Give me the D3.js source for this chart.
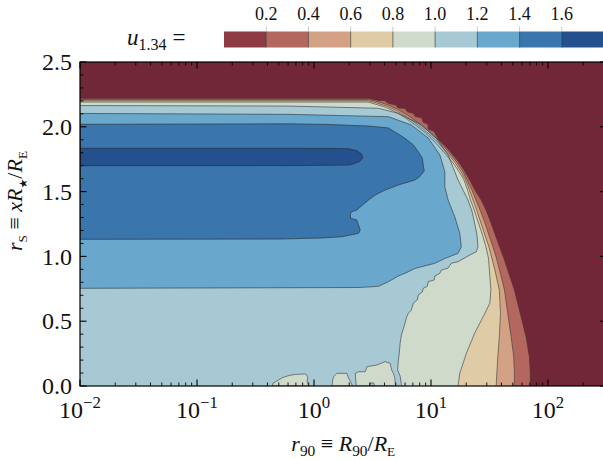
<!DOCTYPE html>
<html><head><meta charset="utf-8">
<script src="https://cdn.jsdelivr.net/npm/d3@7"></script>
<style>
body{margin:0;background:#fff}
svg text{font-family:"Liberation Serif","DejaVu Serif",serif;fill:#111}
</style></head><body>
<svg id="c" width="603" height="460"></svg>
<script>
// ---------------- data ----------------
const levels = [0.2, 0.4, 0.6, 0.8, 1.0, 1.2, 1.4, 1.6];
const bandColors = ["#8f3b46","#b4675f","#d3a184","#dfcba6","#cfdacb","#a6c9d4","#69a7cc","#3a75ab","#24508d"];
const outsideColor = "#712737";
const xTickExps = [-2, -1, 0, 1, 2];
const yTicks = [0, 0.5, 1.0, 1.5, 2.0, 2.5];
const yTickLabels = ["0.0","0.5","1.0","1.5","2.0","2.5"];

// contour lines: points are [log10(r90), rS]
const c02 = [[-2,2.220],[0.466,2.220],[0.551,2.203],[0.602,2.203],[0.636,2.180],[0.696,2.170],[0.721,2.145],[0.778,2.143],[0.798,2.116],[0.849,2.104],[0.866,2.079],[0.919,2.069],[0.934,2.035],[0.976,2.019],[0.976,1.983],[1.027,1.964],[1.061,1.906],[1.146,1.829],[1.231,1.736],[1.282,1.667],[1.331,1.590],[1.376,1.512],[1.429,1.435],[1.474,1.350],[1.514,1.255],[1.550,1.165],[1.586,1.075],[1.622,0.988],[1.656,0.895],[1.713,0.741],[1.770,0.535],[1.812,0.380],[1.841,0.226],[1.849,0.098],[1.849,0]];
const c04 = [[-2,2.211],[0.466,2.211],[0.543,2.194],[0.628,2.170],[0.713,2.136],[0.798,2.090],[0.883,2.035],[0.968,1.974],[1.051,1.906],[1.136,1.821],[1.220,1.728],[1.271,1.659],[1.308,1.590],[1.350,1.512],[1.384,1.435],[1.423,1.350],[1.461,1.258],[1.495,1.165],[1.529,1.075],[1.559,0.988],[1.586,0.895],[1.628,0.741],[1.656,0.561],[1.685,0.380],[1.707,0.226],[1.713,0.100],[1.713,0]];
const c06 = [[-2,2.201],[0.466,2.201],[0.534,2.184],[0.619,2.160],[0.704,2.126],[0.789,2.079],[0.874,2.025],[0.959,1.964],[1.040,1.898],[1.125,1.813],[1.208,1.721],[1.259,1.651],[1.295,1.590],[1.329,1.512],[1.359,1.435],[1.393,1.350],[1.427,1.258],[1.461,1.165],[1.495,1.075],[1.520,0.988],[1.546,0.895],[1.584,0.741],[1.594,0.561],[1.584,0.380],[1.571,0.226],[1.563,0.100],[1.557,0]];
const c08 = [[-2,2.191],[0.466,2.191],[0.526,2.174],[0.611,2.151],[0.696,2.116],[0.781,2.069],[0.866,2.015],[0.951,1.954],[1.027,1.888],[1.112,1.803],[1.197,1.711],[1.248,1.642],[1.282,1.590],[1.312,1.512],[1.338,1.435],[1.372,1.350],[1.406,1.258],[1.440,1.165],[1.469,1.075],[1.491,0.988],[1.499,0.895],[1.512,0.741],[1.503,0.640],[1.461,0.561],[1.373,0.407],[1.302,0.252],[1.246,0.098],[1.231,0]];
const c10 = [[-2,2.164],[-0.214,2.160],[0.551,2.143],[0.721,2.104],[0.919,2.014],[1.047,1.911],[1.146,1.782],[1.203,1.654],[1.231,1.590],[1.274,1.512],[1.316,1.435],[1.350,1.350],[1.373,1.255],[1.393,1.165],[1.401,1.075],[1.387,1.036],[1.316,1.003],[1.231,0.959],[1.174,0.947],[1.146,0.910],[1.089,0.895],[1.076,0.870],[1.033,0.849],[1.027,0.818],[0.976,0.805],[0.968,0.769],[0.934,0.754],[0.925,0.725],[0.891,0.702],[0.883,0.664],[0.849,0.640],[0.832,0.586],[0.806,0.561],[0.789,0.525],[0.778,0.484],[0.747,0.394],[0.736,0.329],[0.727,0.239],[0.721,0.201],[0.715,0.123],[0.736,0.077],[0.749,0]];
const c12 = [[-2,2.103],[-0.214,2.096],[0.636,2.078],[0.832,2.014],[0.976,1.914],[1.076,1.782],[1.118,1.654],[1.118,1.538],[1.146,1.435],[1.203,1.306],[1.246,1.178],[1.259,1.075],[1.231,1.024],[1.118,0.984],[1.033,0.947],[0.863,0.907],[0.778,0.870],[0.721,0.849],[0.636,0.805],[0.551,0.769],[0.381,0.760],[-2,0.754]];
const c14 = [[-2,2.019],[-0.214,2.023],[0.126,2.018],[0.466,2.006],[0.636,1.991],[0.778,1.911],[0.849,1.860],[0.891,1.808],[0.925,1.759],[0.934,1.705],[0.942,1.659],[0.900,1.613],[0.863,1.590],[0.721,1.551],[0.608,1.512],[0.523,1.474],[0.466,1.435],[0.415,1.397],[0.366,1.358],[0.324,1.345],[0.310,1.327],[0.313,1.294],[0.366,1.281],[0.395,1.204],[0.381,1.178],[0.239,1.152],[0.069,1.142],[-0.299,1.134],[-2,1.132]];
const c16 = [[-2,1.834],[-0.129,1.834],[0.211,1.833],[0.296,1.831],[0.364,1.817],[0.402,1.794],[0.419,1.762],[0.389,1.732],[0.338,1.714],[0.296,1.705],[-0.129,1.701],[-2,1.700]];
// islands below 1.0 near the bottom edge
const blobA = [[-0.356,0],[-0.350,0.023],[-0.327,0.033],[-0.271,0.064],[-0.214,0.081],[-0.157,0.090],[-0.072,0.093],[-0.053,0.072],[-0.059,0.033],[-0.044,0]];
const blobB = [[0.154,0],[0.160,0.046],[0.168,0.072],[0.196,0.098],[0.281,0.098],[0.296,0.059],[0.313,0.031],[0.330,0]];
const blobC = [[0.361,0],[0.355,0.062],[0.353,0.098],[0.381,0.110],[0.438,0.110],[0.452,0.149],[0.537,0.162],[0.608,0.188],[0.651,0.175],[0.664,0.123],[0.679,0.098],[0.691,0.062],[0.696,0]];
const pocketC = [[0.474,0],[0.480,0.023],[0.510,0.023],[0.517,0]];

// ---------------- drawing ----------------
const svg = d3.select("#c");
const L = 80, R = 606.5, T = 62, B = 386;
const x = d3.scaleLog().domain([1e-2, Math.pow(10, 2.5)]).range([L, R]);
const y = d3.scaleLinear().domain([0, 2.5]).range([B, T]);
const line = d3.line().x(p => x(Math.pow(10, p[0]))).y(p => y(p[1]));
const corner = [[-2, 0]];

svg.append("clipPath").attr("id","clip").append("rect")
  .attr("x", L).attr("y", T).attr("width", R - L).attr("height", B - T);
const plot = svg.append("g").attr("clip-path","url(#clip)");

plot.append("rect").attr("x", L).attr("y", T).attr("width", R - L).attr("height", B - T)
  .attr("fill", outsideColor);

const fills = [
  [c02.concat(corner), bandColors[1]],
  [c04.concat(corner), bandColors[2]],
  [c06.concat(corner), bandColors[3]],
  [c08.concat(corner), bandColors[4]],
  [c10.concat(corner), bandColors[5]],
  [blobA, bandColors[4]],
  [blobB, bandColors[4]],
  [blobC, bandColors[4]],
  [pocketC, bandColors[5]],
  [c12, bandColors[6]],
  [c14, bandColors[7]],
  [c16, bandColors[8]]
];
fills.forEach(([pts, col]) => {
  plot.append("path").attr("d", line(pts) + "Z").attr("fill", col).attr("stroke", col).attr("stroke-width", 0.3);
});
const strokeCol = "rgba(40,40,40,0.6)";
[c02, c04, c06, c08, c10].forEach(pts => {
  plot.append("path").attr("d", line(pts)).attr("fill","none").attr("stroke", strokeCol).attr("stroke-width", 0.9);
});
[blobA, blobB, blobC, pocketC, c12, c14, c16].forEach(pts => {
  plot.append("path").attr("d", line(pts) + "Z").attr("fill","none").attr("stroke", strokeCol).attr("stroke-width", 0.9);
});

// frame
svg.append("rect").attr("x", L).attr("y", T).attr("width", R - L).attr("height", B - T)
  .attr("fill","none").attr("stroke","#000").attr("stroke-width", 1.2);

// ticks (inward, all sides)
const tickG = svg.append("g").attr("stroke","#000");
const xMinor = [];
for (let e = -2; e <= 2; e++) for (let m = 2; m <= 9; m++) { const v = m * Math.pow(10, e); if (v <= Math.pow(10, 2.5)) xMinor.push(v); }
xTickExps.forEach(e => {
  const px = x(Math.pow(10, e));
  tickG.append("line").attr("x1", px).attr("x2", px).attr("y1", B).attr("y2", B - 6.5).attr("stroke-width", 1.1);
  tickG.append("line").attr("x1", px).attr("x2", px).attr("y1", T).attr("y2", T + 6.5).attr("stroke-width", 1.1);
});
xMinor.forEach(v => {
  const px = x(v);
  tickG.append("line").attr("x1", px).attr("x2", px).attr("y1", B).attr("y2", B - 3.5).attr("stroke-width", 0.9);
  tickG.append("line").attr("x1", px).attr("x2", px).attr("y1", T).attr("y2", T + 3.5).attr("stroke-width", 0.9);
});
d3.range(0, 26).forEach(i => {
  const v = i / 10, py = y(v), major = i % 5 === 0, len = major ? 6.5 : 3.5;
  tickG.append("line").attr("x1", L).attr("x2", L + len).attr("y1", py).attr("y2", py).attr("stroke-width", major ? 1.1 : 0.9);
  tickG.append("line").attr("x1", R).attr("x2", R - len).attr("y1", py).attr("y2", py).attr("stroke-width", major ? 1.1 : 0.9);
});

// rich text helper
function rich(g, parts, size) {
  const t = g.append("text").attr("font-size", size);
  let shift = 0;
  parts.forEach(p => {
    const ts = t.append("tspan").text(p.t);
    const target = p.sub ? size * 0.22 : p.sup ? -size * 0.42 : 0;
    ts.attr("dy", target - shift);
    shift = target;
    if (p.sub || p.sup) ts.attr("font-size", size * (p.s || 0.7));
    if (p.i) ts.attr("font-style", "italic");
    if (p.f) ts.style("font-family", p.f);
  });
  return t;
}

// x tick labels
xTickExps.forEach(e => {
  const g = svg.append("g").attr("transform", `translate(${x(Math.pow(10, e))},${B + 32})`);
  rich(g, [{t:"10"}, {t: (e < 0 ? "\u2212" : "") + Math.abs(e), sup:true}], 24).attr("text-anchor","middle");
});
// y tick labels
yTicks.forEach((v, i) => {
  svg.append("text").attr("x", L - 8).attr("y", y(v)).attr("dy", "0.34em")
    .attr("text-anchor","end").attr("font-size", 24).text(yTickLabels[i]);
});

// axis labels
const xl = svg.append("g").attr("transform", `translate(${(L + R) / 2},${451})`);
rich(xl, [{t:"r", i:true},{t:"90", sub:true},{t:" \u2261 "},{t:"R", i:true},{t:"90", sub:true},{t:"/"},{t:"R", i:true},{t:"E", sub:true, s:0.6}], 22).attr("text-anchor","middle");
const yl = svg.append("g").attr("transform", `translate(22,${201}) rotate(-90)`);
rich(yl, [{t:"r", i:true},{t:"S", sub:true, s:0.6},{t:" \u2261 "},{t:"xR", i:true},{t:"\u2605", sub:true, s:0.5, f:"DejaVu Sans"},{t:"/"},{t:"R", i:true},{t:"E", sub:true, s:0.6}], 22).attr("text-anchor","middle");

// colorbar
const cb = d3.scaleLinear().domain([0, bandColors.length]).range([224, 604]);
const cbT = 31.5, cbH = 16;
bandColors.forEach((c, i) => {
  svg.append("rect").attr("x", cb(i)).attr("y", cbT).attr("width", cb(i + 1) - cb(i)).attr("height", cbH).attr("fill", c);
});
levels.forEach((lv, i) => {
  const px = cb(i + 1);
  svg.append("line").attr("x1", px).attr("x2", px).attr("y1", cbT).attr("y2", cbT + cbH).attr("stroke", strokeCol).attr("stroke-width", 1);
  svg.append("line").attr("x1", px).attr("x2", px).attr("y1", cbT - 5).attr("y2", cbT).attr("stroke", "#bbb").attr("stroke-width", 0.8);
  svg.append("text").attr("x", px).attr("y", 20).attr("text-anchor","middle").attr("font-size", 18).text(lv.toFixed(1));
});
const ul = svg.append("g").attr("transform", "translate(127,45)");
rich(ul, [{t:"u", i:true},{t:"1.34", sub:true},{t:" ="}], 23);
</script></body></html>
